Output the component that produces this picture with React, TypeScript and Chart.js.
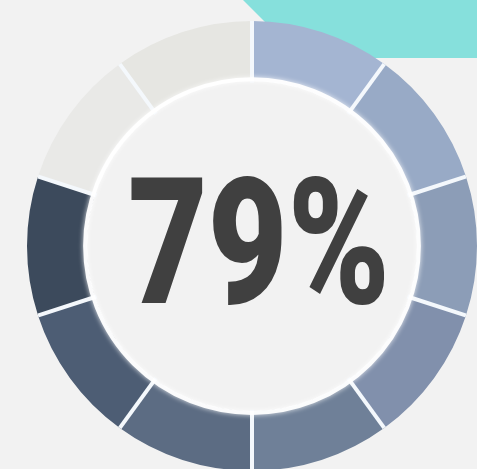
import React, { useEffect, useRef } from "react";
import { Chart, registerables } from "chart.js";

Chart.register(...registerables);

const segmentLabels = ["1", "2", "3", "4", "5", "6", "7", "8", "9", "10"];
const segmentValues = [1, 1, 1, 1, 1, 1, 1, 1, 1, 1];
const segmentColors = [
  "#a4b5d2",
  "#98aac6",
  "#8c9db7",
  "#8190ac",
  "#6f8098",
  "#5c6c83",
  "#4d5d74",
  "#3c4a5c",
  "#e9e9e7",
  "#e6e6e2",
];
const centerLabel = "79%";

const BG = "#f2f2f2";
const TEAL = "#86e0dc";

const decorPlugin = {
  id: "decor",
  beforeDraw(chart: any) {
    const ctx = chart.ctx;
    ctx.save();
    ctx.fillStyle = BG;
    ctx.fillRect(0, 0, chart.width, chart.height);
    ctx.fillStyle = TEAL;
    ctx.beginPath();
    ctx.moveTo(243, 0);
    ctx.lineTo(301, 58);
    ctx.lineTo(chart.width, 58);
    ctx.lineTo(chart.width, 0);
    ctx.closePath();
    ctx.fill();
    ctx.restore();
  },
  afterDatasetsDraw(chart: any) {
    const meta = chart.getDatasetMeta(0);
    const arcs = meta.data;
    if (!arcs.length) return;
    const { x, y, innerRadius, outerRadius } = arcs[0];
    const ctx = chart.ctx;
    ctx.save();
    // clip to ring
    ctx.beginPath();
    ctx.arc(x, y, outerRadius, 0, Math.PI * 2);
    ctx.arc(x, y, innerRadius - 2, 0, Math.PI * 2, true);
    ctx.clip();
    ctx.strokeStyle = "#f4f8fc";
    ctx.lineWidth = 4;
    for (const a of arcs) {
      const ang = a.startAngle;
      ctx.beginPath();
      ctx.moveTo(x + Math.cos(ang) * (innerRadius - 2), y + Math.sin(ang) * (innerRadius - 2));
      ctx.lineTo(x + Math.cos(ang) * (outerRadius + 2), y + Math.sin(ang) * (outerRadius + 2));
      ctx.stroke();
    }
    ctx.restore();

    ctx.save();
    ctx.strokeStyle = "rgba(255,255,255,0.95)";
    ctx.shadowColor = "rgba(255,255,255,0.9)";
    ctx.shadowBlur = 5;
    ctx.lineWidth = 4;
    ctx.beginPath();
    ctx.arc(x, y, innerRadius + 1.5, 0, Math.PI * 2);
    ctx.stroke();
    ctx.restore();
  },
  afterDraw(chart: any) {
    const ctx = chart.ctx;
    ctx.save();
    ctx.font = "900 177px Roboto";
    ctx.fillStyle = "#404040";
    ctx.textBaseline = "alphabetic";
    ctx.textAlign = "left";
    const w = ctx.measureText(centerLabel).width;
    const targetW = 262;
    const sx = targetW / w;
    ctx.translate(128, 303);
    ctx.scale(sx, 1);
    ctx.fillText(centerLabel, 0, 0);
    ctx.restore();
  },
};

export default function App() {
  const ref = useRef<HTMLCanvasElement | null>(null);
  useEffect(() => {
    if (!ref.current) return;
    const chart = new Chart(ref.current, {
      type: "doughnut",
      data: {
        labels: segmentLabels,
        datasets: [
          {
            data: segmentValues,
            backgroundColor: segmentColors,
            hoverBackgroundColor: segmentColors,
            borderWidth: 0,
            hoverBorderWidth: 0,
            offset: 0,
            hoverOffset: 0,
          } as any,
        ],
      },
      options: {
        responsive: false,
        animation: false,
        cutout: "73.5%",
        layout: { padding: { left: 27, right: 23, top: 21, bottom: 29 } },
        plugins: {
          legend: { display: false },
          tooltip: { enabled: false },
          title: { display: false },
        },
        events: [],
      } as any,
      plugins: [decorPlugin],
    });
    return () => chart.destroy();
  }, []);
  return (
    <div
      style={{
        position: "fixed",
        left: 0,
        top: 0,
        width: 477,
        height: 469,
        overflow: "hidden",
        background: BG,
      }}
    >
      <canvas ref={ref} width={500} height={500} style={{ display: "block" }} />
    </div>
  );
}
